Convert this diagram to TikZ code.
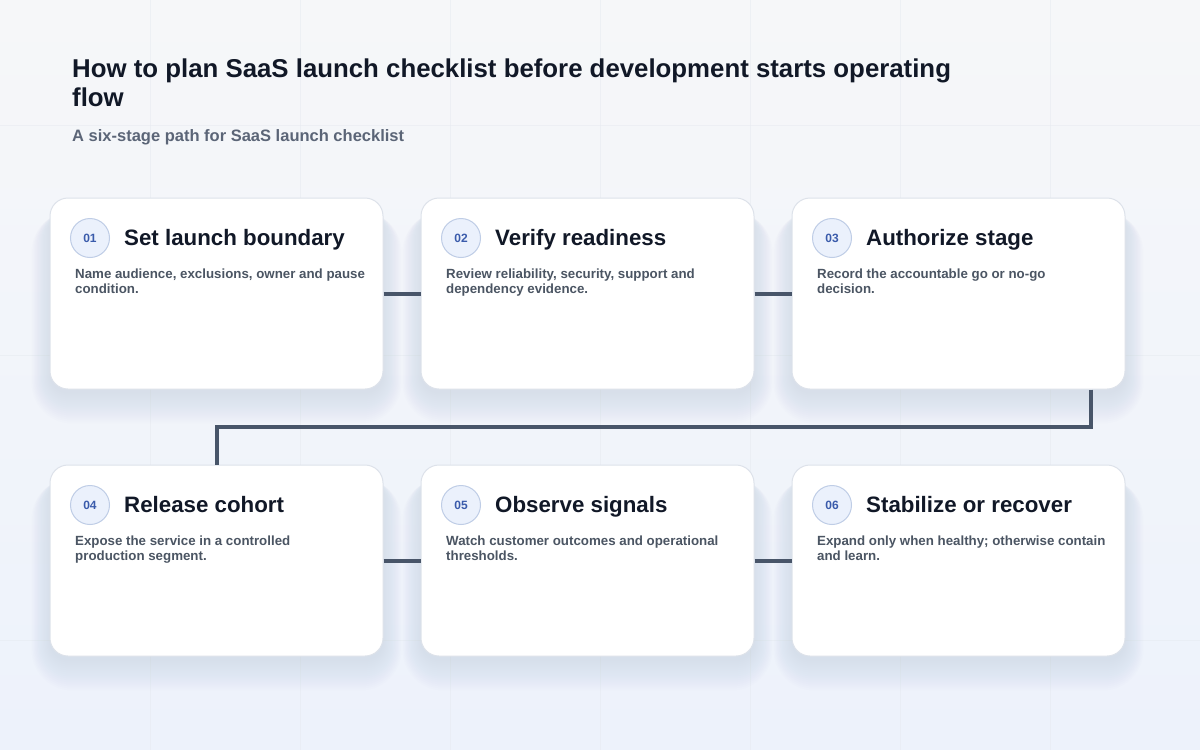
\documentclass[tikz,border=0pt]{standalone}
\usepackage{fontspec}
\setmainfont{Liberation Sans}
\usepackage{tikz}
\usetikzlibrary{backgrounds}

\definecolor{ink}{HTML}{111827}
\definecolor{subtext}{HTML}{5B6577}
\definecolor{body}{HTML}{4B5563}
\definecolor{cardline}{HTML}{DDE2EA}
\definecolor{numfill}{HTML}{EBF1FC}
\definecolor{numline}{HTML}{BFCDE6}
\definecolor{numtext}{HTML}{3A5BAB}
\definecolor{wire}{HTML}{485569}
\definecolor{bgtop}{HTML}{F6F7F9}
\definecolor{bgbottom}{HTML}{EDF2FB}
\definecolor{gridline}{HTML}{E6EAF0}
\definecolor{shadowcol}{HTML}{8A96B2}

\tikzset{
    card/.style={draw=cardline, line width=1pt, fill=white, rounded corners=18pt,
        minimum width=333pt, minimum height=191pt},
    num/.style={circle, draw=numline, fill=numfill, line width=1pt, minimum size=39pt,
        inner sep=0pt, text=numtext, font=\fontsize{12}{14}\selectfont\bfseries},
    head/.style={anchor=base west, inner sep=0pt, text=ink, font=\fontsize{22.3}{26}\selectfont\bfseries},
    desc/.style={anchor=north west, inner sep=0pt, align=left, text=body,
        font=\fontsize{13.3}{15}\selectfont\bfseries},
    link/.style={draw=wire, line width=4pt}
}

\begin{document}
\begin{tikzpicture}[x=1pt, y=-1pt]
    \useasboundingbox (0,0) rectangle (1200,750);

    % Title
    \node[anchor=base west, inner sep=0pt, text=ink, font=\fontsize{25.8}{29}\selectfont\bfseries] (title) at (72,77) {How to plan SaaS launch checklist before development starts operating};
    \node[anchor=base west, inner sep=0pt, text=ink, font=\fontsize{25.8}{29}\selectfont\bfseries] (title2) at (72,106) {flow};
    \node[anchor=base west, inner sep=0pt, text=subtext, font=\fontsize{16.5}{19}\selectfont\bfseries] (subtitle) at (72,141) {A six-stage path for SaaS launch checklist};

    % Cards
    \node[card] (c1) at (216.5,293.5) {};
    \node[card] (c2) at (587.5,293.5) {};
    \node[card] (c3) at (958.5,293.5) {};
    \node[card] (c4) at (216.5,560.5) {};
    \node[card] (c5) at (587.5,560.5) {};
    \node[card] (c6) at (958.5,560.5) {};

    % Background, grid and soft shadows
    \begin{scope}[on background layer]
        \shade[top color=bgtop, bottom color=bgbottom] (0,0) rectangle (1200,750);
        \foreach \gx in {150,300,...,1050}
            \draw[gridline, line width=0.5pt, opacity=0.5] (\gx,0) -- (\gx,750);
        \foreach \gy in {125,355,640}
            \draw[gridline, line width=0.5pt, opacity=0.5] (0,\gy) -- (1200,\gy);
        \foreach \c in {c1,c2,c3,c4,c5,c6}
            \foreach \k in {0,...,15}
                \fill[shadowcol, opacity=0.012, rounded corners={18pt+1.5pt*\k}]
                    ([shift={(-1.2*\k,14)}]\c.north west) rectangle ([shift={(1.2*\k,4+2*\k)}]\c.south east);
    \end{scope}

    % Connectors
    \draw[link] (c1.east) -- (c2.west);
    \draw[link] (c2.east) -- (c3.west);
    \coordinate (turn1) at (1091,427);
    \coordinate (turn2) at (216.5,427);
    \draw[link] (turn1 |- c3.south) -- (turn1) -- (turn2) -- (c4.north);
    \draw[link] (c4.east) -- (c5.west);
    \draw[link] (c5.east) -- (c6.west);

    % Stage 01
    \node[num] (n1) at (90,238) {01};
    \node[head] (h1) at (124,245) {Set launch boundary};
    \node[desc] (d1) at (75,268.5) {Name audience, exclusions, owner and pause\\condition.};

    % Stage 02
    \node[num] (n2) at (461,238) {02};
    \node[head] (h2) at (495,245) {Verify readiness};
    \node[desc] (d2) at (446,268.5) {Review reliability, security, support and\\dependency evidence.};

    % Stage 03
    \node[num] (n3) at (832,238) {03};
    \node[head] (h3) at (866,245) {Authorize stage};
    \node[desc] (d3) at (817,268.5) {Record the accountable go or no-go\\decision.};

    % Stage 04
    \node[num] (n4) at (90,505) {04};
    \node[head] (h4) at (124,512) {Release cohort};
    \node[desc] (d4) at (75,535.5) {Expose the service in a controlled\\production segment.};

    % Stage 05
    \node[num] (n5) at (461,505) {05};
    \node[head] (h5) at (495,512) {Observe signals};
    \node[desc] (d5) at (446,535.5) {Watch customer outcomes and operational\\thresholds.};

    % Stage 06
    \node[num] (n6) at (832,505) {06};
    \node[head] (h6) at (866,512) {Stabilize or recover};
    \node[desc] (d6) at (817,535.5) {Expand only when healthy; otherwise contain\\and learn.};
\end{tikzpicture}
\end{document}
